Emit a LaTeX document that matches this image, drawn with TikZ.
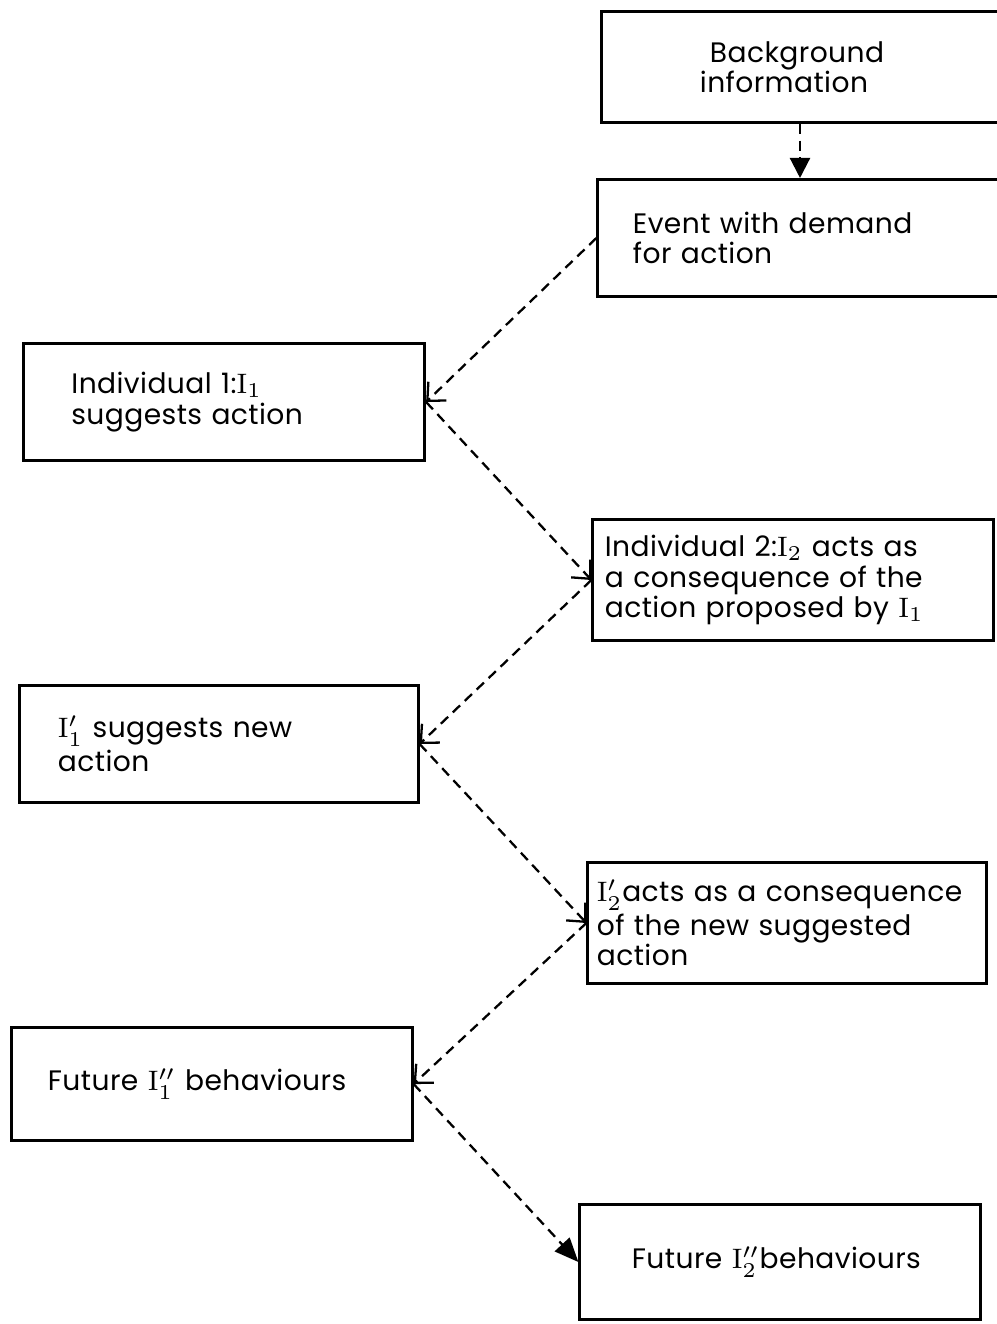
\documentclass[tikz,border=0pt]{standalone}
\usepackage[no-math]{fontspec}
\setmainfont{Poppins}[LetterSpace=1.5, WordSpace=1.3]
\usepackage{tikz}
\usetikzlibrary{arrows.meta}

\begin{document}
\begin{tikzpicture}[x=0.01cm, y=-0.01cm,
    stage/.style={draw, line width=0.85pt, rectangle, align=left, inner ysep=2pt,
        font=\fontsize{8}{8.6}\selectfont},
    link/.style={line width=0.65pt, dash pattern=on 0.1cm off 0.065cm}]
    \useasboundingbox (0,0) rectangle (997,1324);

    \node [stage, inner xsep=0.98cm, text width=2.02cm, minimum height=1.11cm] (bg) at (801,67) {\hspace*{0.1cm}Background\\information};
    \node [stage, inner xsep=0.35cm, text width=3.32cm, minimum height=1.17cm] (ev) at (799,238) {Event with demand\\for action};
    \node [stage, inner xsep=0.48cm, text width=3.05cm, minimum height=1.16cm] (ind1) at (224,402) {Individual 1:$\mathrm{I}_1$\\suggests action};
    \node [stage, inner xsep=0.12cm, text width=3.76cm, minimum height=1.2cm] (ind2) at (793,580) {Individual 2:$\mathrm{I}_2$ acts as\\a consequence of the\\action proposed by $\mathrm{I}_1$};
    \node [stage, inner xsep=0.38cm, text width=3.22cm, minimum height=1.17cm] (new1) at (219,744) {$\mathrm{I}'_1$ suggests new\\action};
    \node [stage, inner xsep=0.09cm, text width=3.8cm, minimum height=1.2cm] (new2) at (787,923) {$\mathrm{I}'_2$acts as a consequence\\of the new suggested\\action};
    \node [stage, inner xsep=0.36cm, text width=3.28cm, minimum height=1.12cm] (fut1) at (212,1084) {Future $\mathrm{I}''_1$ behaviours};
    \node [stage, inner xsep=0.52cm, text width=2.96cm, minimum height=1.15cm] (fut2) at (780,1262) {Future $\mathrm{I}''_2$behaviours};

    \draw [link, -{Triangle[length=0.2cm, width=0.2cm]}] (bg.south -| 800,0) -- (ev.north -| 800,0);
    \draw [link, -{Straight Barb[length=0.14cm, width=0.26cm]}] (ev.west) -- (ind1.east);
    \draw [link, -{Straight Barb[length=0.14cm, width=0.26cm]}] (ind1.east) -- (ind2.west);
    \draw [link, -{Straight Barb[length=0.14cm, width=0.26cm]}] (ind2.west) -- (new1.east);
    \draw [link, -{Straight Barb[length=0.14cm, width=0.26cm]}] (new1.east) -- (new2.west);
    \draw [link, -{Straight Barb[length=0.14cm, width=0.26cm]}] (new2.west) -- (fut1.east);
    \draw [link, -{Triangle[length=0.24cm, width=0.2cm]}] (fut1.east) -- (fut2.west);
\end{tikzpicture}
\end{document}
